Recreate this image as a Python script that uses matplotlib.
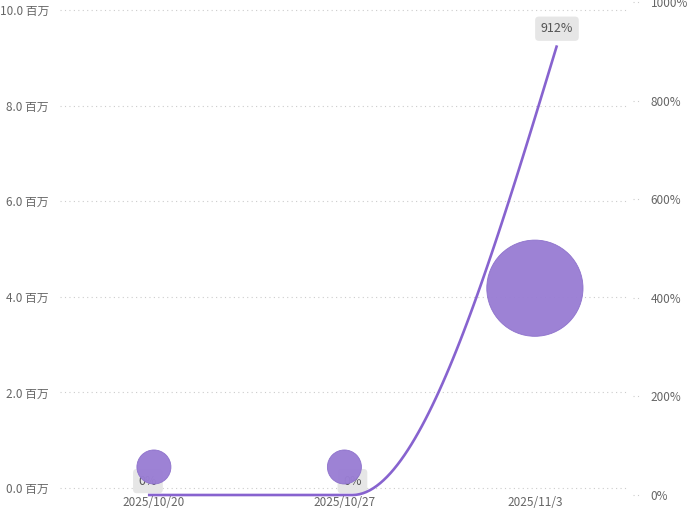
import numpy as np
import matplotlib
matplotlib.use('Agg')
from matplotlib import pyplot as plt
from matplotlib.transforms import blended_transform_factory

plt.rcParams['font.family'] = ['Noto Sans CJK SC', 'DejaVu Sans']

# 数据
dates = ['2025/10/20', '2025/10/27', '2025/11/3']
bubble_vals = [0.44, 0.44, 4.18]      # 百万
bubble_weight = [1.0, 1.0, 8.0]       # 气泡相对面积
pct_vals = [0, 0, 912]                # 百分比
left_ticks = [0, 2, 4, 6, 8, 10]
right_ticks = [0, 200, 400, 600, 800, 1000]

bubble_color = '#9a7ed4'
line_color = '#8763cf'
text_color = '#666666'

W, H = 693, 516
fig = plt.figure(figsize=(W / 100, H / 100), dpi=100)
rect = [60 / W, (H - 495) / H, (641 - 60) / W, 493 / H]
ax_l = fig.add_axes(rect)   # 折线 (右轴)
ax_b = fig.add_axes(rect)   # 气泡 (左轴)
ax_b.set_zorder(ax_l.get_zorder() + 1)
ax_b.patch.set_visible(False)

# 气泡轴
ax_b.set_xlim(-0.493, 2.557)
ax_b.set_ylim(-0.146, 10.167)
x = np.arange(len(dates))
ax_b.scatter(x, bubble_vals, s=np.array(bubble_weight) * 600, color=bubble_color,
             edgecolor='#8c70cb', linewidth=0.6, alpha=0.97, zorder=3)
ax_b.set_xticks(x)
ax_b.set_xticklabels(dates)
ax_b.set_yticks(left_ticks)
ax_b.set_yticklabels(['%.1f 百万' % v for v in left_ticks])
ax_b.tick_params(axis='both', length=0, labelsize=8.5, colors=text_color)
ax_b.tick_params(axis='y', pad=8)
ax_b.tick_params(axis='x', pad=1)
for s in ax_b.spines.values():
    s.set_visible(False)

# 折线轴
ax_l.set_xlim(-0.430, 2.411)
ax_l.set_ylim(0, 1000)
ax_l.set_xticks([])
ax_l.yaxis.tick_right()
ax_l.set_yticks(right_ticks)
ax_l.set_yticklabels(['%d%%' % v for v in right_ticks])
ax_l.tick_params(axis='y', length=0, labelsize=8.5, colors=text_color, pad=7)
for s in ax_l.spines.values():
    s.set_visible(False)

# 网格
tr = blended_transform_factory(ax_l.transAxes, ax_b.transData)
for v in left_ticks:
    ax_l.plot([0, 0.978], [v, v], transform=tr, color='#cccccc', lw=0.8,
              ls=(0, (1, 3)), zorder=0, clip_on=False)
for v in right_ticks:
    ax_l.plot([0.986, 1.0], [v, v], transform=ax_l.get_yaxis_transform(), color='#cccccc',
              lw=0.8, ls=(0, (1, 3)), zorder=0, clip_on=False)

# 单调三次曲线
xl = np.arange(len(pct_vals), dtype=float)
yl = np.array(pct_vals, dtype=float)
n = len(xl)
sec = np.diff(yl) / np.diff(xl)
t = np.zeros(n)
for i in range(1, n - 1):
    h0, h1 = xl[i] - xl[i - 1], xl[i + 1] - xl[i]
    s0, s1 = sec[i - 1], sec[i]
    p = (s0 * h1 + s1 * h0) / (h0 + h1)
    t[i] = (np.sign(s0) + np.sign(s1)) * min(abs(s0), abs(s1), 0.5 * abs(p))
t[0] = (3 * sec[0] - t[1]) / 2
t[-1] = (3 * sec[-1] - t[-2]) / 2
xs, ys = [], []
for i in range(n - 1):
    h = xl[i + 1] - xl[i]
    u = np.linspace(0, 1, 60)
    h00 = 2 * u**3 - 3 * u**2 + 1
    h10 = u**3 - 2 * u**2 + u
    h01 = -2 * u**3 + 3 * u**2
    h11 = u**3 - u**2
    xs.append(xl[i] + u * h)
    ys.append(h00 * yl[i] + h10 * h * t[i] + h01 * yl[i + 1] + h11 * h * t[i + 1])
ax_l.plot(np.concatenate(xs), np.concatenate(ys), color=line_color, lw=1.9,
          solid_capstyle='butt', clip_on=False, zorder=2)

for xi, v in zip(xl, pct_vals):
    off = 12 if v > 0 else 10
    ax_l.annotate('%d%%' % v, (xi, v), xytext=(0, off), textcoords='offset points',
                  ha='center', va='center', fontsize=9, color='#555555',
                  bbox=dict(boxstyle='round,pad=0.45,rounding_size=0.3', fc='#e6e6e6', ec='none'),
                  zorder=1, annotation_clip=False)

fig.savefig('out.png', dpi=100)
